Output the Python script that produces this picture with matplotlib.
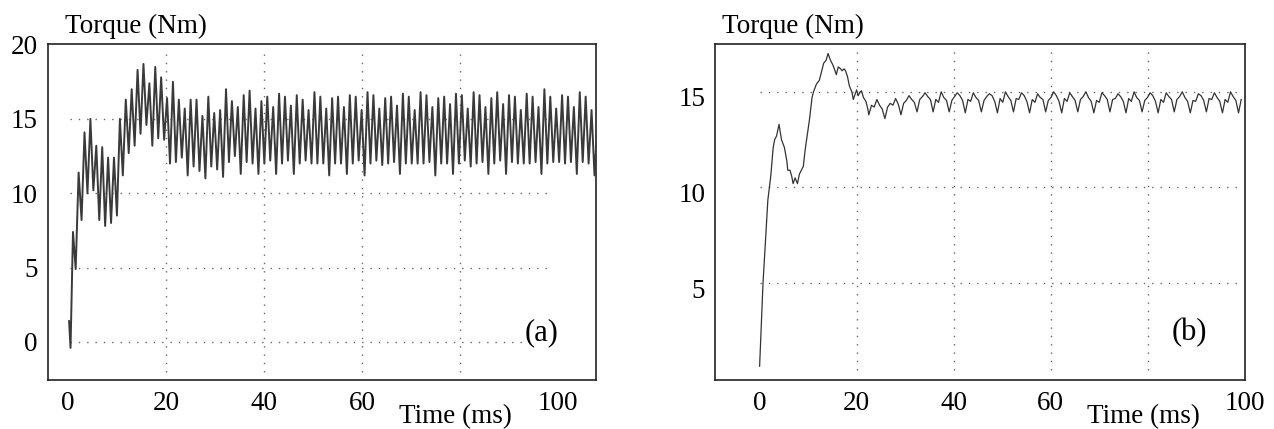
import numpy as np
import matplotlib
matplotlib.use('Agg')
import matplotlib.pyplot as plt
import matplotlib.transforms as mtransforms

plt.rcParams['font.family'] = 'Liberation Serif'
plt.rcParams['font.size'] = 19.5

# ---------------- (a) ----------------
# poczatek przebiegu (ms, Nm)
t_start_a = [0.2, 0.5, 1.0, 1.55]
torque_start_a = [1.4, -0.4, 7.4, 4.9]
# tetnienia: maksimum co okres, minimum po kazdym maksimum
ripple_t0_a = 2.15      # ms, pierwszy szczyt
ripple_period_a = 1.204  # ms
peaks_a = [11.4, 14.1, 15.0, 13.2, 13.1, 12.4, 12.4, 15.0, 16.3, 17.0,
           18.3, 18.7, 17.4, 18.5, 17.8, 16.4, 17.5, 16.3, 15.7, 16.3,
           16.3, 15.2, 16.5, 15.4, 15.6, 17.0, 16.2, 15.8, 16.6, 16.9,
           15.7, 16.2,
           16.5, 15.8, 16.7, 16.5, 15.9, 16.6, 16.3, 15.6, 16.8, 16.5,
           15.7, 16.4, 16.5, 15.8, 16.6, 16.5, 15.6, 16.8, 16.6, 15.7,
           16.4, 16.5, 15.9, 16.7, 16.5, 15.6, 16.8, 16.6, 15.8, 16.4,
           16.5, 16.0, 16.7, 16.6, 15.7, 16.8, 16.6, 15.8, 16.4, 16.8,
           16.0, 16.6, 16.5, 15.6, 16.7, 16.5, 15.8, 17.0, 16.5, 15.7,
           16.6, 16.5, 15.8, 16.8, 16.5, 15.6]
troughs_a = [8.2, 10.0, 10.2, 8.2, 7.8, 8.0, 8.5, 11.2, 12.7, 13.2,
             14.0, 14.6, 13.2, 13.7, 13.6, 12.0, 12.1, 12.4, 11.2, 11.8,
             11.5, 11.0, 11.8, 11.6, 11.1, 12.1, 12.5, 11.3, 12.1, 12.0,
             11.3, 12.0,
             12.2, 11.3, 12.0, 12.2, 11.3, 12.0, 12.2, 12.0, 12.0, 12.0,
             11.2, 12.0, 12.0, 11.3, 12.0, 12.2, 11.2, 12.0, 12.2, 11.9,
             12.0, 12.1, 11.3, 12.0, 12.0, 12.0, 12.0, 12.1, 11.2, 12.0,
             12.0, 11.3, 12.0, 12.2, 11.8, 12.0, 12.1, 11.3, 12.0, 12.2,
             11.3, 12.1, 12.0, 12.0, 12.0, 12.1, 11.3, 12.0, 12.1, 12.1,
             12.0, 12.1, 11.3, 12.1, 12.0, 11.2]
torque_end_a = 14.7

# ---------------- (b) ----------------
t_rise_b = [0.0, 0.7, 1.7, 2.3, 2.8, 3.1, 3.5, 4.0, 4.5, 5.1, 5.6, 5.8,
            6.25, 6.6, 6.9, 7.3, 7.8, 8.2, 8.6, 9.0, 9.4, 9.9, 10.3, 10.8,
            11.1, 11.7, 12.0, 12.3, 12.8, 13.2, 13.7, 14.1, 14.6, 15.1,
            15.4, 15.8, 16.2, 16.7, 17.0, 17.4, 17.7, 18.1, 18.5, 19.0,
            19.3, 19.7, 20.0, 20.3, 20.7, 21.0, 21.4, 21.9, 22.3]
torque_rise_b = [0.65, 5.0, 9.35, 10.6, 12.1, 12.5, 12.7, 13.3, 12.5, 12.1,
                 11.4, 10.9, 10.9, 10.6, 10.2, 10.5, 10.2, 10.7, 10.9, 11.1,
                 12.0, 12.9, 13.6, 14.7, 15.0, 15.4, 15.5, 15.6, 16.1, 16.5,
                 16.65, 17.0, 16.65, 16.4, 16.2, 15.9, 16.3, 16.2, 16.1, 16.2,
                 16.1, 15.8, 15.3, 15.0, 14.6, 14.9, 15.1, 14.8, 15.0, 15.05,
                 14.7, 14.5, 14.1]
# tetnienia po 22.5 ms, probki co ripple_dt_b
ripple_t0_b = 22.5
ripple_dt_b = 0.552
ripple_b = [13.8, 14.3, 14.2, 14.6, 14.3, 14.1,
            13.6, 14.2, 14.4, 14.3, 14.65, 14.35,
            13.8, 14.4, 14.55, 14.8, 14.6, 14.45,
            13.95, 14.6, 14.75, 14.95, 14.75, 14.6,
            13.95, 14.6, 14.45, 15.0, 14.7, 14.55,
            13.95, 14.55, 14.75, 14.95, 14.8, 14.55,
            13.9, 14.6, 14.5, 14.95, 14.7, 14.55,
            13.95, 14.55, 14.75, 14.9, 14.8, 14.5,
            13.9, 14.65, 14.45, 15.0, 14.75, 14.55,
            13.95, 14.65, 14.6, 14.95, 14.8, 14.5,
            13.9, 14.6, 14.45, 14.9, 14.7, 14.6,
            13.95, 14.55, 14.7, 15.0, 14.8, 14.5,
            13.9, 14.65, 14.5, 14.95, 14.75, 14.55,
            13.95, 14.6, 14.75, 15.0, 14.7, 14.5,
            13.9, 14.55, 14.45, 14.95, 14.8, 14.6,
            13.95, 14.6, 14.65, 14.9, 14.75, 14.5,
            13.9, 14.65, 14.5, 15.0, 14.7, 14.55,
            13.95, 14.55, 14.7, 14.95, 14.8, 14.5,
            13.9, 14.6, 14.45, 14.95, 14.75, 14.6,
            13.95, 14.6, 14.75, 15.0, 14.7, 14.5,
            13.9, 14.55, 14.5, 14.9, 14.8, 14.55,
            13.95, 14.65, 14.6, 14.95, 14.7, 14.5,
            13.9, 14.6, 14.45, 15.0, 14.75, 14.55,
            13.9, 14.6]

x_ticks = [0, 20, 40, 60, 100]
grid_x = [20, 40, 60, 80]

# skladanie przebiegow
t_rip_a = []
v_rip_a = []
for i in range(len(peaks_a)):
    tp = ripple_t0_a + i * ripple_period_a
    t_rip_a += [tp, tp + ripple_period_a / 2]
    v_rip_a += [peaks_a[i], troughs_a[i]]
t_a = t_start_a + t_rip_a + [t_rip_a[-1] + ripple_period_a / 2]
v_a = torque_start_a + v_rip_a + [torque_end_a]

t_b = t_rise_b + list(ripple_t0_b + ripple_dt_b * np.arange(len(ripple_b)))
v_b = torque_rise_b + ripple_b

grid_kw = dict(colors='#666666', linestyles=(0, (1, 5)), linewidth=1.0, zorder=1)


def uloz_osie(ax, xlim, ylim, yticks, x_tytulu, dy_etykiet=0):
    ax.set_xlim(*xlim)
    ax.set_ylim(*ylim)
    ax.set_xticks(x_ticks)
    ax.set_yticks(yticks)
    ax.tick_params(length=0, labelsize=19.5)
    ax.tick_params(axis='x', pad=8)
    ax.tick_params(axis='y', pad=7)
    if dy_etykiet:
        przes = mtransforms.ScaledTranslation(0, dy_etykiet / 100, fig.dpi_scale_trans)
        for lab in ax.get_yticklabels():
            lab.set_transform(lab.get_transform() + przes)
    for s in ax.spines.values():
        s.set_linewidth(1.2)
        s.set_color('#222222')
    ax.text(x_tytulu, 1.015, 'Torque (Nm)', transform=ax.transAxes, ha='left', va='bottom')
    tr = mtransforms.blended_transform_factory(ax.transData, ax.transAxes)
    ax.text(79, -0.11, 'Time (ms)', transform=tr, ha='center', va='center')


fig = plt.figure(figsize=(12.74, 4.29), dpi=100)
ax_a = fig.add_axes([0.0373, 0.1142, 0.4305, 0.7832])
ax_b = fig.add_axes([0.5612, 0.1142, 0.4160, 0.7832])

# (a)
uloz_osie(ax_a, (-4.2, 107.8), (-2.56, 20.04), [0, 5, 10, 15, 20], 0.032)
ax_a.hlines([0, 5, 10, 15], 0.3, 99, **grid_kw)
ax_a.vlines(grid_x, -2.0, 19.6, **grid_kw)
ax_a.plot(t_a, v_a, color='#3a3a3a', lw=1.4, zorder=3)
ax_a.text(96.7, 0.6, '(a)', fontsize=22, ha='center', va='center', zorder=4,
          bbox=dict(facecolor='white', edgecolor='none', pad=1))

# (b)
uloz_osie(ax_b, (-9.2, 99.0), (-0.07, 17.5), [5, 10, 15], 0.013, dy_etykiet=-5)
ax_b.hlines([5, 10, 15], 0, 99, **grid_kw)
ax_b.vlines(grid_x, 0.45, 17.2, **grid_kw)
ax_b.plot(t_b, v_b, color='#333333', lw=0.9, zorder=3)
ax_b.text(88.5, 2.4, '(b)', fontsize=22, ha='center', va='center', zorder=4)

fig.savefig('out.png', dpi=100)
